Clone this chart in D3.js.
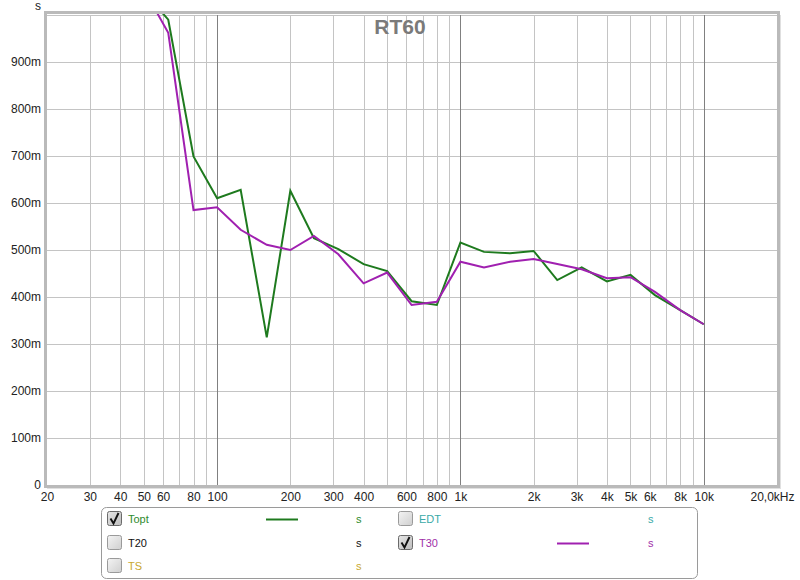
<!DOCTYPE html>
<html><head><meta charset="utf-8">
<script src="https://cdn.jsdelivr.net/npm/d3@7"></script>
<style>body{margin:0;background:#fff;}svg{display:block;font-family:"Liberation Sans",Arial,sans-serif;}</style>
</head><body><svg id="c" width="800" height="580"></svg>
<script>
const freqs = [50,63,80,100,125,160,200,250,315,400,500,630,800,1000,1250,1600,2000,2500,3150,4000,5000,6300,8000,10000];
const topt  = [1.05,0.99,0.699,0.610,0.628,0.314,0.626,0.525,0.502,0.470,0.455,0.391,0.383,0.516,0.496,0.493,0.498,0.436,0.463,0.433,0.447,0.404,0.372,0.342];
const t30   = [1.055,0.962,0.585,0.591,0.543,0.511,0.500,0.530,0.491,0.429,0.452,0.383,0.390,0.475,0.463,0.475,0.481,0.470,0.459,0.440,0.442,0.411,0.372,0.342];
const yTicks = [0,0.1,0.2,0.3,0.4,0.5,0.6,0.7,0.8,0.9];
const yTickLabels = ["0","100m","200m","300m","400m","500m","600m","700m","800m","900m"];
const xTicks = [20,30,40,50,60,80,100,200,300,400,600,800,1000,2000,3000,4000,5000,6000,8000,10000,20000];
const xTickLabels = ["20","30","40","50","60","80","100","200","300","400","600","800","1k","2k","3k","4k","5k","6k","8k","10k","20,0kHz"];
const gridFreqs = [30,40,50,60,70,80,90,200,300,400,500,600,700,800,900,2000,3000,4000,5000,6000,7000,8000,9000];
const majorFreqs = [100,1000,10000];
const legendItems = [
  {name:"Topt", checked:true, color:"#2e8b2e", line:"#1e7a1e", col:0, row:0},
  {name:"EDT", checked:false, color:"#3aaaa8", line:null, col:1, row:0},
  {name:"T20", checked:false, color:"#111111", line:null, col:0, row:1},
  {name:"T30", checked:true, color:"#a030a8", line:"#a020b0", col:1, row:1},
  {name:"TS", checked:false, color:"#c8a830", line:null, col:0, row:2}
];

const svg = d3.select("#c");
const L=47, R=777, T=15, B=485;
const x = d3.scaleLog().domain([20,20000]).range([L,R]);
const y = d3.scaleLinear().domain([0,1]).range([B,T]);

const defs = svg.append("defs");
defs.append("clipPath").attr("id","clip").append("rect").attr("x",L).attr("y",T-1).attr("width",R-L).attr("height",B-T+1);
const g1 = defs.append("linearGradient").attr("id","cb").attr("x1",0).attr("y1",0).attr("x2",1).attr("y2",1);
g1.append("stop").attr("offset","0%").attr("stop-color","#f4f4f4");
g1.append("stop").attr("offset","100%").attr("stop-color","#cfcfcf");
const g2 = defs.append("linearGradient").attr("id","cbc").attr("x1",0).attr("y1",0).attr("x2",1).attr("y2",1);
g2.append("stop").attr("offset","0%").attr("stop-color","#e6e6e6");
g2.append("stop").attr("offset","100%").attr("stop-color","#bdbdbd");

// grid
const grid = svg.append("g");
grid.selectAll("line.v").data(gridFreqs).enter().append("line")
  .attr("x1",d=>Math.round(x(d))+0.5).attr("x2",d=>Math.round(x(d))+0.5).attr("y1",T).attr("y2",B)
  .attr("stroke","#c4c4c4").attr("stroke-width",1);
grid.selectAll("line.h").data(yTicks.concat([1])).enter().append("line")
  .attr("x1",L).attr("x2",R).attr("y1",d=>Math.round(y(d))+0.5).attr("y2",d=>Math.round(y(d))+0.5)
  .attr("stroke","#c4c4c4").attr("stroke-width",1);
grid.selectAll("line.m").data(majorFreqs).enter().append("line")
  .attr("x1",d=>Math.round(x(d))+0.5).attr("x2",d=>Math.round(x(d))+0.5).attr("y1",T).attr("y2",B)
  .attr("stroke","#808080").attr("stroke-width",1);

// lines
const line = d3.line().x((d,i)=>x(freqs[i])).y(d=>y(d));
const lg = svg.append("g").attr("clip-path","url(#clip)");
lg.append("path").datum(topt).attr("d",line).attr("fill","none").attr("stroke","#1e7a1e").attr("stroke-width",2);
lg.append("path").datum(t30).attr("d",line).attr("fill","none").attr("stroke","#a020b0").attr("stroke-width",2);

// frame
svg.append("rect").attr("x",L-1.5).attr("y",T-2.5).attr("width",R-L+3).attr("height",B-T+4)
  .attr("fill","none").attr("stroke","#bababa").attr("stroke-width",3);
svg.append("line").attr("x1",R+3.5).attr("x2",R+3.5).attr("y1",T).attr("y2",B+4).attr("stroke","#e0e0e0").attr("stroke-width",1);
svg.append("line").attr("x1",L).attr("x2",R+4).attr("y1",B+3.5).attr("y2",B+3.5).attr("stroke","#e0e0e0").attr("stroke-width",1);

// axes
const yAxis = d3.axisLeft(y).tickValues(yTicks).tickFormat((d,i)=>yTickLabels[i]).tickSize(0).tickPadding(5);
const ya = svg.append("g").attr("transform",`translate(${L-1},0)`).call(yAxis);
ya.select(".domain").remove();
ya.selectAll("text").attr("font-size",12).attr("fill","#222").attr("font-family","Liberation Sans, Arial, sans-serif");
const xAxis = d3.axisBottom(x).tickValues(xTicks).tickFormat((d,i)=>xTickLabels[i]).tickSize(0).tickPadding(6);
const xa = svg.append("g").attr("transform",`translate(0,${B+1})`).call(xAxis);
xa.select(".domain").remove();
xa.selectAll("text").attr("font-size",12).attr("fill","#222").attr("font-family","Liberation Sans, Arial, sans-serif");
xa.selectAll(".tick").filter(d=>d===20000).select("text").attr("dx",-5);

svg.append("text").attr("x",38).attr("y",10).attr("text-anchor","middle").attr("font-size",12).attr("fill","#222").text("s");
svg.append("text").attr("x",400).attr("y",34).attr("text-anchor","middle").attr("font-size",21).attr("font-weight","bold").attr("fill","#7a7a7a").text("RT60");

// legend
svg.append("rect").attr("x",101.5).attr("y",507.5).attr("width",596).attr("height",71).attr("rx",5)
  .attr("fill","#fff").attr("stroke","#9a9a9a");
const colX=[107,398], rowY=[519,543,566];
const items = svg.append("g").selectAll("g").data(legendItems).enter().append("g")
  .attr("transform",d=>`translate(${colX[d.col]},${rowY[d.row]})`);
items.append("rect").attr("x",0.5).attr("y",-7.5).attr("width",14).attr("height",14).attr("rx",2)
  .attr("fill",d=>d.checked?"url(#cbc)":"url(#cb)").attr("stroke",d=>d.checked?"#6a6a6a":"#9a9a9a");
items.filter(d=>d.checked).append("path").attr("d","M3.5,-0.5 L6.5,4.5 L11.5,-6").attr("fill","none").attr("stroke","#111").attr("stroke-width",1.9);
items.append("text").attr("x",21).attr("y",4).attr("font-size",11).attr("fill",d=>d.color).text(d=>d.name);
items.filter(d=>d.line).append("line").attr("x1",159).attr("x2",191).attr("y1",0.5).attr("y2",0.5).attr("stroke",d=>d.line).attr("stroke-width",2);
items.append("text").attr("x",d=>d.col===0?249:250).attr("y",4).attr("font-size",11).attr("fill",d=>d.color).text("s");
</script></body></html>
